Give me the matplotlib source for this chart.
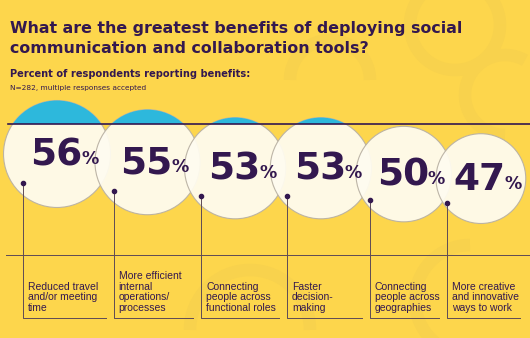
#!/usr/bin/env python3

import matplotlib
matplotlib.use('Agg')
import matplotlib.pyplot as plt
from matplotlib.patches import Circle, Rectangle, Arc
import numpy as np

# survey results, percent of respondents
benefits = ['Reduced travel\nand/or meeting\ntime',
            'More efficient\ninternal\noperations/\nprocesses',
            'Connecting\npeople across\nfunctional roles',
            'Faster\ndecision-\nmaking',
            'Connecting\npeople across\ngeographies',
            'More creative\nand innovative\nways to work']
percents = [56, 55, 53, 53, 50, 47]

title_lines = ['What are the greatest benefits of deploying social',
               'communication and collaboration tools?']
subtitle = 'Percent of respondents reporting benefits:'
note = 'N=282, multiple responses accepted'

BG = '#fdd64c'
PURPLE = '#33184f'
BLUE = '#2db8dc'
CREAM = '#fffcf0'
RULE = '#5e4a56'

W, H = 530, 338
fig = plt.figure(figsize=(W / 100., H / 100.), dpi=100)
fig.patch.set_facecolor(BG)
ax = fig.add_axes([0, 0, 1, 1])
ax.set_xlim(0, W)
ax.set_ylim(H, 0)
ax.set_aspect('equal')
ax.axis('off')

# faint decoration in the background
deco = '#f8d24d'
for (x, y, r, t1, t2) in [(455, 25, 45, 0, 360), (505, 95, 40, 90, 300),
                          (330, 80, 40, 180, 360), (470, 300, 55, 90, 270),
                          (250, 330, 60, 180, 360)]:
    ax.add_patch(Arc((x, y), 2 * r, 2 * r, theta1=t1, theta2=t2,
                     color=deco, lw=9, zorder=0))

# title block
ax.text(10, 33, title_lines[0], fontsize=11.4, fontweight='bold',
        color=PURPLE, family='DejaVu Sans')
ax.text(10, 53, title_lines[1], fontsize=11.4, fontweight='bold',
        color=PURPLE, family='DejaVu Sans')
ax.text(10, 77, subtitle, fontsize=7.1, fontweight='bold', color=PURPLE,
        family='DejaVu Sans')
ax.text(10, 90, note, fontsize=5.3, color=PURPLE, family='DejaVu Sans')

# bubble geometry: radius scales with the value, smaller ones sit lower
vals = np.array(percents, dtype=float)
radii = 0.955 * vals
cys = 154 + 8.2 * np.sqrt(vals.max() - vals)
cxs = [57.]
for i in range(1, len(vals)):
    cxs.append(cxs[-1] + radii[i - 1] + radii[i] - 15.5)

line_y = 124
clip = Rectangle((0, 0), W, line_y, transform=ax.transData)

for i, (v, r, cx, cy) in enumerate(zip(percents, radii, cxs, cys)):
    z = 2 + i * 0.1
    ax.add_patch(Circle((cx, cy), r, facecolor=CREAM, edgecolor='#b9b1a3',
                        lw=0.8, alpha=0.94, zorder=z))
    top = Circle((cx, cy), r, facecolor=BLUE, edgecolor='none', zorder=z)
    ax.add_patch(top)
    top.set_clip_path(clip)
    ax.text(cx + 25, cy + 11, str(v), fontsize=27, fontweight='bold',
            color=PURPLE, ha='right', va='baseline', zorder=5,
            family='DejaVu Sans')
    ax.text(cx + 24, cy + 10, '%', fontsize=12.5, fontweight='bold',
            color=PURPLE, ha='left', va='baseline', zorder=5,
            family='DejaVu Sans')

# purple rule through the bubble tops
ax.plot([8, W], [line_y, line_y], color=PURPLE, lw=1.2, zorder=6)

# separator above the labels
ax.plot([6, W], [255, 255], color=RULE, lw=0.7, zorder=1)

# leader lines, dots and labels
bottom_y = 318
dot_x = [cx - 34 for cx in cxs]
for i, (lab, cx, cy, r) in enumerate(zip(benefits, cxs, cys, radii)):
    dx = dot_x[i]
    dy = cy + 0.55 * r
    end = dot_x[i + 1] - 8 if i + 1 < len(dot_x) else dx + 73
    ax.plot([dx, dx, end], [dy, bottom_y, bottom_y], color=RULE, lw=0.7,
            zorder=7)
    ax.scatter([dx], [dy], s=9, color=PURPLE, zorder=8)
    ax.text(dx + 5, 313, lab, fontsize=7.5, color=PURPLE, ha='left',
            va='bottom', linespacing=1.07, family='Liberation Sans')

fig.savefig('out.png', dpi=100, facecolor=BG)
